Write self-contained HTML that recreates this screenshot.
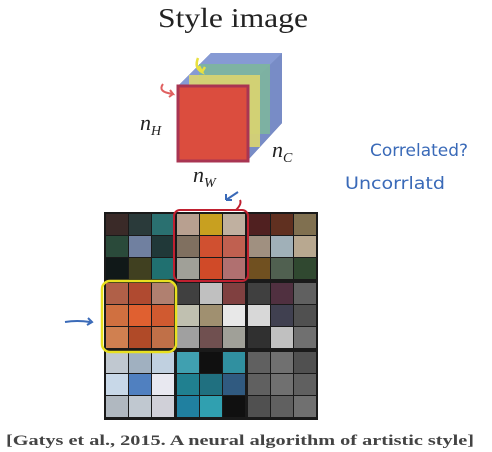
<!DOCTYPE html>
<html><head><meta charset="utf-8"><style>
html,body{margin:0;padding:0;background:#fff;width:492px;height:452px;overflow:hidden}
</style></head><body>
<svg width="492" height="452" viewBox="0 0 492 452" xmlns="http://www.w3.org/2000/svg">
<rect width="492" height="452" fill="#fff"/>
<text x="233" y="27" text-anchor="middle" font-family="Liberation Serif, serif" font-size="27" fill="#222" textLength="150" lengthAdjust="spacingAndGlyphs">Style image</text>
<!-- cube layers back to front -->
<g opacity="0.9">
<polygon points="211,53 282,53 282,123 248,160 178,160 178,86" fill="#2a3a9a"/>
<rect x="211" y="53" width="71" height="70" fill="#8aa0d0"/>
<polygon points="178,86 211,53 282,53 248,86" fill="#7a90d0"/>
<polygon points="248,86 282,53 282,123 248,160" fill="#6a80c0"/>
<rect x="199" y="64" width="71" height="70" fill="#70b090" opacity="0.85"/>
<rect x="189" y="75" width="71" height="72" fill="#d8d060" opacity="0.9"/>
<rect x="178" y="86" width="70" height="75" fill="#d83a2a"/>
<rect x="178" y="86" width="70" height="75" fill="none" stroke="#a02040" stroke-width="3"/>
</g>
<path d="M198 58 q-4 10 4 14 l-3 -6 M202 72 l3 -5" stroke="#e8e040" stroke-width="2.5" fill="none"/>
<path d="M163 84 q-6 8 10 10 l-3 -4 M173 94 l-4 3" stroke="#e06060" stroke-width="2" fill="none"/>
<text x="140" y="130" font-family="Liberation Serif, serif" font-style="italic" font-size="22" fill="#222">n<tspan font-size="14" dy="5">H</tspan></text>
<text x="272" y="157" font-family="Liberation Serif, serif" font-style="italic" font-size="22" fill="#222">n<tspan font-size="14" dy="5">C</tspan></text>
<text x="193" y="182" font-family="Liberation Serif, serif" font-style="italic" font-size="22" fill="#222">n<tspan font-size="14" dy="5">W</tspan></text>
<text x="370" y="156" font-family="DejaVu Sans, sans-serif" font-size="17" fill="#3a6ab8" textLength="98" lengthAdjust="spacingAndGlyphs">Correlated?</text>
<text x="345" y="189" font-family="DejaVu Sans, sans-serif" font-size="17" fill="#3a6ab8" textLength="100" lengthAdjust="spacingAndGlyphs">Uncorrlatd</text>
<path d="M238 192 l-12 8 M226 200 l0 -6 M226 200 l6 0" stroke="#3a6ab8" stroke-width="2" fill="none"/>
<path d="M65 322 q12 -2 25 0 M88 318 l4 4 -5 3" stroke="#3a6ab8" stroke-width="2" fill="none"/>
<!-- grid -->
<rect x="104" y="212" width="214" height="208" fill="#1a1a1a"/>
<g id="tiles"></g>
<g>
<!-- tiles generated statically -->
<g transform="translate(106,214)">
<rect x="0" y="0" width="22" height="21" fill="#3a2a28"/><rect x="23" y="0" width="22" height="21" fill="#2a3a3a"/><rect x="46" y="0" width="22" height="21" fill="#2a7070"/>
<rect x="0" y="22" width="22" height="21" fill="#2a4a3a"/><rect x="23" y="22" width="22" height="21" fill="#7080a0"/><rect x="46" y="22" width="22" height="21" fill="#203838"/>
<rect x="0" y="44" width="22" height="21" fill="#101818"/><rect x="23" y="44" width="22" height="21" fill="#404020"/><rect x="46" y="44" width="22" height="21" fill="#207070"/>
</g>
<g transform="translate(177,214)">
<rect x="0" y="0" width="22" height="21" fill="#b8a090"/><rect x="23" y="0" width="22" height="21" fill="#c8a020"/><rect x="46" y="0" width="22" height="21" fill="#c0b0a0"/>
<rect x="0" y="22" width="22" height="21" fill="#807060"/><rect x="23" y="22" width="22" height="21" fill="#d05030"/><rect x="46" y="22" width="22" height="21" fill="#c06050"/>
<rect x="0" y="44" width="22" height="21" fill="#a0a098"/><rect x="23" y="44" width="22" height="21" fill="#d04a28"/><rect x="46" y="44" width="22" height="21" fill="#b07070"/>
</g>
<g transform="translate(248,214)">
<rect x="0" y="0" width="22" height="21" fill="#502020"/><rect x="23" y="0" width="22" height="21" fill="#603020"/><rect x="46" y="0" width="22" height="21" fill="#807050"/>
<rect x="0" y="22" width="22" height="21" fill="#a09080"/><rect x="23" y="22" width="22" height="21" fill="#a0b0b8"/><rect x="46" y="22" width="22" height="21" fill="#b8a890"/>
<rect x="0" y="44" width="22" height="21" fill="#705020"/><rect x="23" y="44" width="22" height="21" fill="#506050"/><rect x="46" y="44" width="22" height="21" fill="#304830"/>
</g>
<g transform="translate(106,283)">
<rect x="0" y="0" width="22" height="21" fill="#b06048"/><rect x="23" y="0" width="22" height="21" fill="#b04a30"/><rect x="46" y="0" width="22" height="21" fill="#b08070"/>
<rect x="0" y="22" width="22" height="21" fill="#d07040"/><rect x="23" y="22" width="22" height="21" fill="#e06030"/><rect x="46" y="22" width="22" height="21" fill="#d05a30"/>
<rect x="0" y="44" width="22" height="21" fill="#d08050"/><rect x="23" y="44" width="22" height="21" fill="#b04a28"/><rect x="46" y="44" width="22" height="21" fill="#c07048"/>
</g>
<g transform="translate(177,283)">
<rect x="0" y="0" width="22" height="21" fill="#404040"/><rect x="23" y="0" width="22" height="21" fill="#c0c0c0"/><rect x="46" y="0" width="22" height="21" fill="#804040"/>
<rect x="0" y="22" width="22" height="21" fill="#c0c0b0"/><rect x="23" y="22" width="22" height="21" fill="#a09070"/><rect x="46" y="22" width="22" height="21" fill="#e8e8e8"/>
<rect x="0" y="44" width="22" height="21" fill="#a0a0a0"/><rect x="23" y="44" width="22" height="21" fill="#705050"/><rect x="46" y="44" width="22" height="21" fill="#a0a098"/>
</g>
<g transform="translate(248,283)">
<rect x="0" y="0" width="22" height="21" fill="#404040"/><rect x="23" y="0" width="22" height="21" fill="#503040"/><rect x="46" y="0" width="22" height="21" fill="#606060"/>
<rect x="0" y="22" width="22" height="21" fill="#d8d8d8"/><rect x="23" y="22" width="22" height="21" fill="#404050"/><rect x="46" y="22" width="22" height="21" fill="#505050"/>
<rect x="0" y="44" width="22" height="21" fill="#303030"/><rect x="23" y="44" width="22" height="21" fill="#c0c0c0"/><rect x="46" y="44" width="22" height="21" fill="#707070"/>
</g>
<g transform="translate(106,352)">
<rect x="0" y="0" width="22" height="21" fill="#c0c8d0"/><rect x="23" y="0" width="22" height="21" fill="#a0b0c0"/><rect x="46" y="0" width="22" height="21" fill="#c0d0e0"/>
<rect x="0" y="22" width="22" height="21" fill="#c8d8e8"/><rect x="23" y="22" width="22" height="21" fill="#5080c0"/><rect x="46" y="22" width="22" height="21" fill="#e8e8f0"/>
<rect x="0" y="44" width="22" height="21" fill="#b0b8c0"/><rect x="23" y="44" width="22" height="21" fill="#c0c8d0"/><rect x="46" y="44" width="22" height="21" fill="#d0d0d8"/>
</g>
<g transform="translate(177,352)">
<rect x="0" y="0" width="22" height="21" fill="#40a0b0"/><rect x="23" y="0" width="22" height="21" fill="#101010"/><rect x="46" y="0" width="22" height="21" fill="#3090a0"/>
<rect x="0" y="22" width="22" height="21" fill="#208090"/><rect x="23" y="22" width="22" height="21" fill="#207080"/><rect x="46" y="22" width="22" height="21" fill="#305a80"/>
<rect x="0" y="44" width="22" height="21" fill="#2080a0"/><rect x="23" y="44" width="22" height="21" fill="#30a0b0"/><rect x="46" y="44" width="22" height="21" fill="#101010"/>
</g>
<g transform="translate(248,352)">
<rect x="0" y="0" width="22" height="21" fill="#606060"/><rect x="23" y="0" width="22" height="21" fill="#707070"/><rect x="46" y="0" width="22" height="21" fill="#505050"/>
<rect x="0" y="22" width="22" height="21" fill="#606060"/><rect x="23" y="22" width="22" height="21" fill="#707070"/><rect x="46" y="22" width="22" height="21" fill="#606060"/>
<rect x="0" y="44" width="22" height="21" fill="#505050"/><rect x="23" y="44" width="22" height="21" fill="#606060"/><rect x="46" y="44" width="22" height="21" fill="#707070"/>
</g>
</g>
<rect x="174" y="210" width="74" height="71" rx="6" fill="none" stroke="#c02030" stroke-width="2"/>
<path d="M236 210 q6 -6 4 -10" stroke="#c02030" stroke-width="2" fill="none"/>
<rect x="102" y="281" width="74" height="71" rx="8" fill="none" stroke="#e8e020" stroke-width="2.5"/>
<text x="6" y="445" font-family="Liberation Serif, serif" font-weight="bold" font-size="15" fill="#444" textLength="468" lengthAdjust="spacingAndGlyphs">[Gatys et al., 2015. A neural algorithm of artistic style]</text>
</svg>
</body></html>
